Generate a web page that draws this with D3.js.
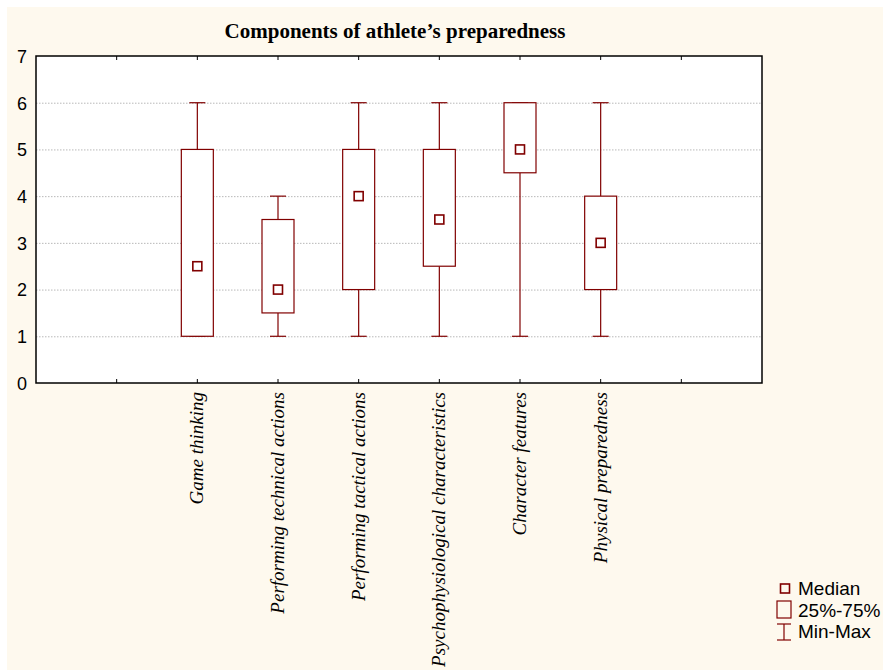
<!DOCTYPE html>
<html>
<head>
<meta charset="utf-8">
<script src="https://cdn.jsdelivr.net/npm/d3@7"></script>
<style>
  html, body { margin: 0; padding: 0; background: #ffffff; }
  svg { display: block; }
</style>
</head>
<body>
<svg id="chart" width="883" height="670"></svg>
<script>
// Box plot summary per component
const categories = [
  "Game thinking",
  "Performing technical actions",
  "Performing tactical actions",
  "Psychophysiological characteristics",
  "Character features",
  "Physical preparedness"
];
const minValues    = [1, 1,   1, 1,   1,   1];
const q1Values     = [1, 1.5, 2, 2.5, 4.5, 2];
const medianValues = [2.5, 2, 4, 3.5, 5,   3];
const q3Values     = [5, 3.5, 5, 5,   6,   4];
const maxValues    = [6, 4,   6, 6,   6,   6];
const yTicks = [0, 1, 2, 3, 4, 5, 6, 7];
const legendLabels = ["Median", "25%-75%", "Min-Max"];

const W = 883, H = 670;
const margin = { left: 36, top: 56, right: 121, bottom: 287 };
const plotW = W - margin.left - margin.right;
const plotH = H - margin.top - margin.bottom;
const boxColor = "#800000";

const svg = d3.select("#chart");

// page background
svg.append("rect").attr("x", 0).attr("y", 0).attr("width", W).attr("height", H).attr("fill", "#ffffff");
svg.append("rect").attr("x", 7).attr("y", 7).attr("width", W - 7).attr("height", H - 7).attr("fill", "#fef9ee");

const g = svg.append("g").attr("transform", `translate(${margin.left},${margin.top})`);

// 9 slots across the axis; categories sit on interior ticks 2..7
const x = d3.scalePoint().domain(d3.range(10)).range([0, plotW]);
const catX = i => x(i + 2);
const y = d3.scaleLinear().domain([0, 7]).range([plotH, 0]);

g.append("rect").attr("width", plotW).attr("height", plotH).attr("fill", "#ffffff");

// dotted grid lines
g.selectAll("line.grid").data(yTicks.filter(t => t > 0 && t < 7)).join("line")
  .attr("class", "grid")
  .attr("x1", 0).attr("x2", plotW)
  .attr("y1", d => y(d) + 0.5).attr("y2", d => y(d) + 0.5)
  .attr("stroke", "#b8b8b8").attr("stroke-width", 1).attr("stroke-dasharray", "1.5,1.5");

// frame
g.append("rect").attr("width", plotW).attr("height", plotH)
  .attr("fill", "none").attr("stroke", "#000").attr("stroke-width", 1.5);

// inward ticks on top and bottom
const tickIdx = d3.range(1, 9);
g.selectAll("line.tb").data(tickIdx).join("line")
  .attr("x1", d => x(d)).attr("x2", d => x(d)).attr("y1", plotH).attr("y2", plotH - 4)
  .attr("stroke", "#000").attr("stroke-width", 1);
g.selectAll("line.tt").data(tickIdx).join("line")
  .attr("x1", d => x(d)).attr("x2", d => x(d)).attr("y1", 0).attr("y2", 4)
  .attr("stroke", "#000").attr("stroke-width", 1);

// y axis labels
const yAxis = d3.axisLeft(y).tickValues(yTicks).tickSize(0).tickPadding(9).tickFormat(d3.format("d"));
const ya = g.append("g").call(yAxis);
ya.select(".domain").remove();
ya.selectAll("text").attr("font-family", "Arial, 'Liberation Sans', sans-serif")
  .attr("font-size", 18).attr("fill", "#000").attr("dy", "0.35em");

// x axis category labels, rotated
g.selectAll("text.cat").data(categories).join("text")
  .attr("class", "cat")
  .attr("transform", (d, i) => `translate(${catX(i) + 6},${plotH + 9}) rotate(-90)`)
  .attr("text-anchor", "end")
  .attr("font-family", "'Liberation Serif', 'Times New Roman', serif")
  .attr("font-style", "italic")
  .attr("font-size", 19)
  .attr("fill", "#000")
  .text(d => d);

// boxes
const boxW = 32, capW = 16, medS = 9;
categories.forEach((c, i) => {
  const cx = catX(i);
  const bg = g.append("g");
  // whiskers
  bg.append("line").attr("x1", cx).attr("x2", cx).attr("y1", y(maxValues[i])).attr("y2", y(q3Values[i]))
    .attr("stroke", boxColor).attr("stroke-width", 1.2);
  bg.append("line").attr("x1", cx).attr("x2", cx).attr("y1", y(q1Values[i])).attr("y2", y(minValues[i]))
    .attr("stroke", boxColor).attr("stroke-width", 1.2);
  bg.append("line").attr("x1", cx - capW / 2).attr("x2", cx + capW / 2).attr("y1", y(maxValues[i])).attr("y2", y(maxValues[i]))
    .attr("stroke", boxColor).attr("stroke-width", 1.2);
  bg.append("line").attr("x1", cx - capW / 2).attr("x2", cx + capW / 2).attr("y1", y(minValues[i])).attr("y2", y(minValues[i]))
    .attr("stroke", boxColor).attr("stroke-width", 1.2);
  // box
  bg.append("rect").attr("x", cx - boxW / 2).attr("width", boxW)
    .attr("y", y(q3Values[i])).attr("height", y(q1Values[i]) - y(q3Values[i]))
    .attr("fill", "#ffffff").attr("stroke", boxColor).attr("stroke-width", 1.2);
  // median marker
  bg.append("rect").attr("x", cx - medS / 2).attr("y", y(medianValues[i]) - medS / 2)
    .attr("width", medS).attr("height", medS)
    .attr("fill", "#ffffff").attr("stroke", boxColor).attr("stroke-width", 1.6);
});

// title
svg.append("text").attr("x", 395).attr("y", 38)
  .attr("text-anchor", "middle")
  .attr("font-family", "'Liberation Serif', 'Times New Roman', serif")
  .attr("font-weight", "bold").attr("font-size", 21).attr("fill", "#000")
  .text("Components of athlete’s preparedness");

// legend
const lg = svg.append("g").attr("transform", "translate(785,0)");
lg.append("rect").attr("x", -4.5).attr("y", 584).attr("width", 9).attr("height", 9)
  .attr("fill", "none").attr("stroke", boxColor).attr("stroke-width", 1.6);
lg.append("rect").attr("x", -8).attr("y", 601).attr("width", 14).attr("height", 17)
  .attr("fill", "none").attr("stroke", boxColor).attr("stroke-width", 1.2);
lg.append("line").attr("x1", -1).attr("x2", -1).attr("y1", 624).attr("y2", 640).attr("stroke", boxColor).attr("stroke-width", 1.2);
lg.append("line").attr("x1", -8).attr("x2", 6).attr("y1", 624).attr("y2", 624).attr("stroke", boxColor).attr("stroke-width", 1.2);
lg.append("line").attr("x1", -8).attr("x2", 6).attr("y1", 640).attr("y2", 640).attr("stroke", boxColor).attr("stroke-width", 1.2);
lg.selectAll("text").data(legendLabels).join("text")
  .attr("x", 13).attr("y", (d, i) => 595 + i * 21.5)
  .attr("font-family", "Arial, 'Liberation Sans', sans-serif")
  .attr("font-size", 19).attr("fill", "#000")
  .text(d => d);
</script>
</body>
</html>
